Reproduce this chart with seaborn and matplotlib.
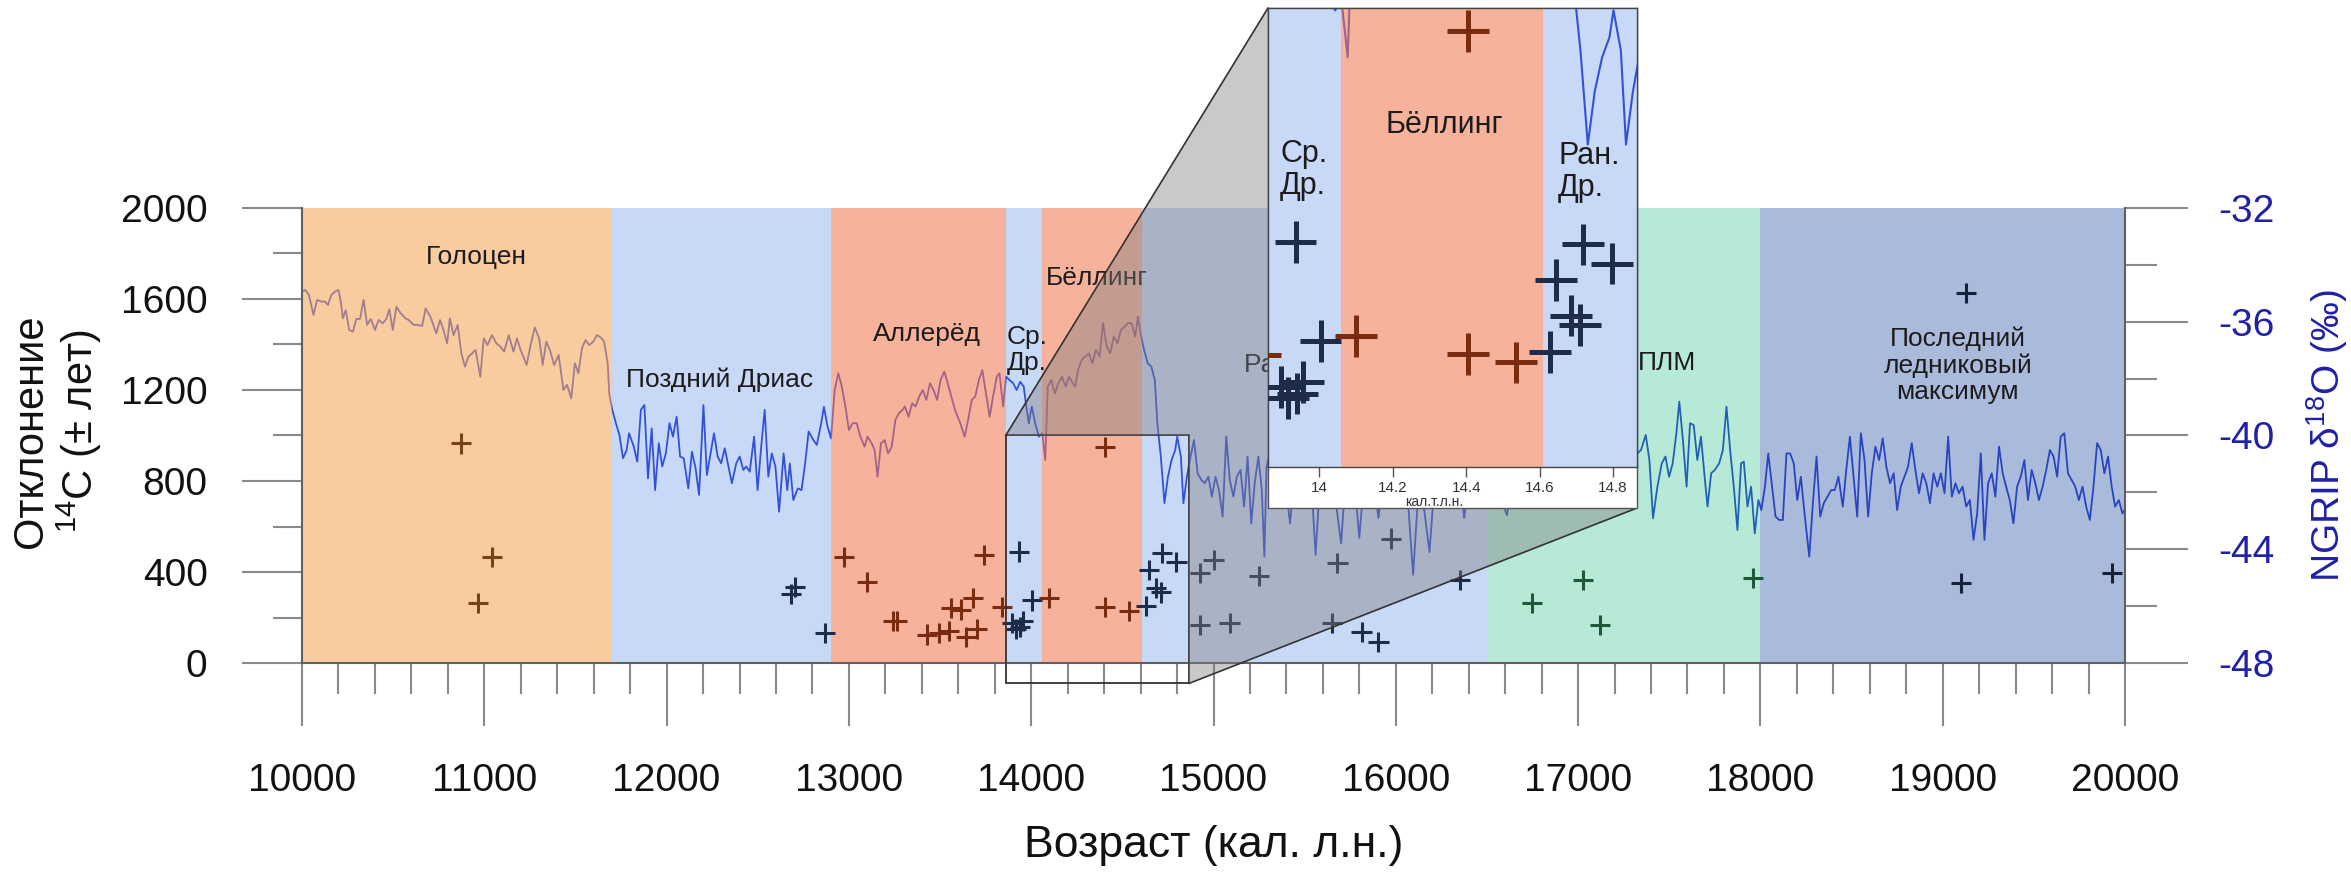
import matplotlib
matplotlib.use("Agg")
import numpy as np
import pandas as pd
import matplotlib.pyplot as plt
import seaborn as sns
from matplotlib.patches import Rectangle, Polygon
from matplotlib.lines import Line2D
from matplotlib.ticker import MultipleLocator, FuncFormatter

sns.set_style("ticks")
plt.rcParams['font.family'] = ['Liberation Sans', 'DejaVu Sans']
plt.rcParams['mathtext.fontset'] = 'custom'
plt.rcParams['mathtext.rm'] = 'Liberation Sans'
plt.rcParams['mathtext.it'] = 'Liberation Sans:italic'
plt.rcParams['mathtext.bf'] = 'Liberation Sans:bold'
plt.rcParams['axes.unicode_minus'] = False

# ---------------- climate periods (cal. yr BP) ----------------
period_names = ["Голоцен", "Поздний Дриас", "Аллерёд", "Ср.\nДр.", "Бёллинг",
                "Ран. Др.", "ПЛМ", "Последний\nледниковый\nмаксимум"]
period_start = [10000, 11700, 12900, 13860, 14060, 14610, 16500, 18000]
period_end = [11700, 12900, 13860, 14060, 14610, 16500, 18000, 20000]

# ---------------- NGRIP d18O record ----------------
ngrip_age = [
    10000, 10018, 10038, 10063, 10083, 10106, 10126, 10142, 10161, 10181, 10200, 10214, 10224, 10240,
    10259, 10279, 10298, 10318, 10338, 10357, 10377, 10400, 10420, 10443, 10463, 10479, 10498, 10518,
    10541, 10567, 10586, 10612, 10635, 10659, 10678, 10704, 10737, 10757, 10776, 10796, 10811, 10831,
    10854, 10874, 10894, 10913, 10933, 10952, 10978, 10997, 11017, 11042, 11066, 11089, 11109, 11134,
    11160, 11179, 11199, 11232, 11252, 11277, 11301, 11320, 11340, 11360, 11383, 11408, 11434, 11454,
    11477, 11497, 11516, 11536, 11555, 11575, 11598, 11618, 11638, 11657, 11677, 11685, 11702, 11722,
    11741, 11761, 11781, 11794, 11820, 11839, 11859, 11878, 11898, 11918, 11937, 11957, 11976, 11996,
    12016, 12035, 12055, 12074, 12094, 12119, 12139, 12159, 12178, 12202, 12221, 12241, 12260, 12280,
    12299, 12319, 12339, 12358, 12382, 12401, 12421, 12437, 12456, 12480, 12499, 12519, 12538, 12558,
    12577, 12597, 12617, 12642, 12662, 12676, 12695, 12720, 12740, 12760, 12779, 12805, 12824, 12848,
    12863, 12883, 12902, 12922, 12942, 12961, 12981, 13000, 13020,
    13043, 13063, 13086, 13102, 13125, 13141, 13157, 13176, 13196, 13215, 13235, 13255, 13274, 13294,
    13307, 13327, 13347, 13366, 13386, 13405, 13425, 13445, 13464, 13484, 13503, 13523, 13542, 13562,
    13582, 13611, 13635, 13654, 13674, 13693, 13713, 13732, 13752, 13772, 13791, 13811, 13826, 13846,
    13862, 13881, 13901, 13920, 13940, 13959, 13973, 13987, 14003, 14022, 14042, 14061, 14077, 14091,
    14110, 14130, 14149, 14169, 14189, 14208, 14228, 14241, 14257, 14277, 14296, 14316, 14335, 14355,
    14375, 14394, 14414, 14433, 14453, 14473, 14492, 14512, 14531, 14551, 14570, 14586, 14600, 14619,
    14639, 14659, 14678, 14692, 14711, 14731, 14750, 14770, 14790, 14801, 14821, 14835, 14854, 14874,
    14893, 14913, 14933, 14952, 14972, 14991, 15011, 15030, 15050, 15070, 15089, 15109, 15128, 15148,
    15168, 15187, 15207, 15226, 15246, 15265, 15279, 15291,
    15310, 15340, 15370, 15400, 15420, 15445, 15470, 15500, 15530, 15560, 15590, 15620, 15650, 15700,
    15730, 15760, 15800, 15830, 15860, 15905, 15940, 15975, 16010, 16050, 16095, 16130, 16185, 16220,
    16260, 16300, 16340, 16375, 16410, 16450, 16490, 16530, 16560, 16610, 16650, 16690, 16730, 16770,
    16810, 16850, 16890, 16930, 16970, 17010, 17050, 17090, 17130, 17170, 17210, 17250, 17290,
    17325, 17345, 17371, 17391, 17411, 17435, 17459, 17479, 17499, 17519, 17539, 17555, 17575, 17595,
    17614, 17634, 17654, 17674, 17694, 17710, 17730, 17750, 17774, 17794, 17814, 17834, 17854, 17874,
    17894, 17909, 17929, 17949, 17969, 17989, 18005, 18025, 18043, 18063, 18083, 18103, 18123, 18143,
    18163, 18183, 18202, 18222, 18242, 18268, 18288, 18308, 18328, 18348, 18368, 18388, 18408, 18428,
    18452, 18471, 18491, 18511, 18531, 18551, 18571, 18591, 18611, 18631, 18651, 18671, 18691, 18711,
    18731, 18750, 18770, 18790, 18810, 18830, 18850, 18870, 18890, 18910, 18930, 18950, 18970, 18990,
    19010, 19030, 19050, 19070, 19089, 19109, 19129, 19149, 19169, 19189, 19209, 19229, 19249, 19269,
    19289, 19309, 19329, 19348, 19368, 19388, 19408, 19428, 19448, 19468, 19488, 19508, 19528, 19548,
    19568, 19588, 19608, 19628, 19647, 19667, 19687, 19707, 19727, 19747, 19767, 19787, 19807, 19827,
    19847, 19867, 19887, 19907, 19927, 19946, 19966, 19986, 20000,
]
ngrip_d18o = [
    -34.94, -34.88, -35.06, -35.76, -35.23, -35.29, -35.29, -35.41, -35.06, -34.94, -34.88, -35.35, -35.88, -35.59,
    -36.29, -36.35, -35.90, -35.90, -35.23, -36.11, -35.90, -36.29, -35.94, -36.06, -35.90, -35.56, -36.29, -35.47,
    -35.70, -35.88, -35.94, -36.11, -36.11, -36.15, -35.53, -35.82, -36.41, -35.94, -36.29, -36.76, -35.88, -36.47,
    -36.11, -37.11, -37.58, -37.23, -37.11, -36.99, -37.93, -36.58, -36.82, -36.47, -36.76, -36.88, -37.05, -36.47,
    -37.05, -36.58, -36.99, -37.52, -36.88, -36.20, -36.58, -37.52, -36.70, -36.99, -37.52, -37.17, -38.40, -38.22,
    -38.69, -37.46, -37.81, -36.93, -36.64, -36.82, -36.70, -36.47, -36.55, -36.70, -37.46, -38.52, -39.10, -39.57,
    -39.98, -40.80, -40.51, -39.92, -40.39, -40.92, -39.10, -38.93, -41.51, -39.75, -41.92, -40.27, -41.09, -40.63,
    -39.57, -40.04, -39.34, -40.74, -40.80, -41.86, -40.57, -41.15, -42.09, -38.93, -41.39, -40.63, -39.92, -40.74,
    -40.98, -40.45, -41.09, -41.68, -40.98, -40.74, -41.21, -41.09, -41.27, -40.04, -41.92, -40.39, -39.10, -41.45,
    -40.63, -41.09, -42.68, -40.63, -41.92, -40.98, -42.27, -41.86, -41.92, -40.98, -39.86, -40.16, -40.33, -39.57,
    -38.99, -39.69, -40.10, -38.40, -37.81, -38.28, -38.99, -39.81, -39.57,
    -39.57, -40.04, -40.39, -40.04, -40.27, -40.51, -41.45, -40.27, -40.16, -40.63, -40.39, -39.45, -39.22, -39.10,
    -38.98, -39.34, -38.87, -38.98, -38.63, -38.40, -38.75, -38.16, -38.40, -38.75, -38.05, -37.75, -38.16, -38.63,
    -39.10, -39.57, -40.04, -39.45, -38.75, -38.63, -38.05, -37.70, -38.52, -39.34, -38.63, -37.93, -37.81, -38.98,
    -37.93, -38.05, -38.16, -38.40, -38.11, -38.28, -38.98, -39.57, -38.98, -39.57, -40.04, -39.92, -40.86, -38.28,
    -38.05, -38.52, -38.16, -37.93, -38.28, -37.93, -38.16, -38.28, -37.70, -37.34, -37.23, -37.11, -37.46, -36.99,
    -37.23, -36.05, -36.87, -37.11, -36.52, -36.76, -36.29, -36.17, -36.05, -36.05, -36.52, -35.82, -36.41, -36.99,
    -37.46, -37.58, -38.05, -39.57, -40.74, -42.38, -41.45, -40.86, -40.51, -40.04, -40.74, -42.38, -41.45, -40.74,
    -40.16, -41.33, -41.56, -41.68, -41.45, -42.15, -41.45, -41.92, -42.85, -40.04, -41.56, -42.15, -41.45, -41.21,
    -42.50, -40.74, -43.09, -41.68, -40.74, -41.92, -44.26, -41.09,
    -40.60, -41.50, -40.80, -42.00, -43.10, -41.20, -40.50, -41.60, -40.90, -44.20, -41.00, -40.40, -41.30, -43.80,
    -41.00, -40.60, -43.60, -41.20, -40.70, -42.90, -41.00, -40.50, -41.40, -40.80, -44.90, -41.30, -44.10, -41.00,
    -40.60, -41.50, -40.90, -42.90, -41.20, -40.40, -41.60, -40.70, -41.90, -42.80, -41.00, -40.30, -41.40, -40.60,
    -41.80, -40.90, -41.50, -40.40, -41.20, -40.70, -42.00, -40.90, -41.30, -40.50, -41.60, -40.80, -41.00,
    -40.63, -40.51, -39.98, -40.86, -42.91, -41.80, -40.98, -40.74, -41.45, -40.98, -39.92, -38.81, -40.16, -41.80,
    -39.57, -39.63, -40.86, -40.04, -41.45, -42.50, -41.33, -41.21, -40.98, -40.51, -38.99, -40.51, -41.80, -43.32,
    -40.98, -40.92, -42.50, -41.80, -43.44, -42.27, -42.62, -41.80, -40.63, -41.74, -42.85, -42.97, -42.97, -40.63,
    -40.63, -40.98, -42.27, -41.45, -42.74, -44.26, -42.38, -40.74, -42.85, -42.38, -42.15, -41.92, -41.92, -41.45,
    -42.50, -41.21, -40.04, -41.45, -42.85, -39.92, -40.86, -42.85, -41.33, -40.39, -40.86, -40.10, -41.10, -41.68,
    -41.33, -42.62, -41.80, -41.45, -41.10, -40.27, -41.21, -42.03, -41.33, -41.68, -42.38, -41.33, -41.80, -41.33,
    -42.03, -40.04, -42.15, -41.68, -42.03, -41.80, -42.50, -42.27, -43.67, -42.74, -40.63, -43.67, -41.68, -41.33,
    -42.15, -40.39, -41.33, -41.80, -42.27, -43.09, -41.80, -41.45, -40.86, -42.27, -41.21, -41.68, -42.27, -41.80,
    -41.21, -40.51, -40.74, -41.45, -40.04, -39.92, -41.33, -41.56, -41.80, -42.27, -41.80, -42.50, -42.97, -41.80,
    -40.27, -40.51, -41.33, -40.74, -41.80, -42.50, -42.27, -42.74, -42.60,
]

# ---------------- 14C age offsets of dated samples ----------------
holocene_age = [10870, 10965, 11040]
holocene_off = [965, 265, 465]
late_dryas_age = [12680, 12705, 12870]
late_dryas_off = [305, 335, 130]
allerod_age = [12975, 13100, 13240, 13265, 13430, 13495, 13550, 13560, 13615, 13640, 13680, 13705, 13740, 13840]
allerod_off = [465, 355, 185, 185, 125, 130, 140, 240, 235, 115, 285, 150, 475, 245]
older_dryas_age = [13895, 13915, 13935, 13940, 13955, 14003]
older_dryas_off = [175, 150, 490, 160, 185, 275]
bolling_age = [14100, 14405, 14405, 14535]
bolling_off = [285, 950, 246, 228]
oldest_dryas_age = [14628, 14645, 14685, 14710, 14718, 14797, 14925, 14925, 15000, 15088, 15250,
                    15652, 15680, 15812, 15905, 15973, 16354]
oldest_dryas_off = [250, 408, 330, 310, 485, 443, 395, 167, 453, 176, 383,
                    176, 440, 137, 92, 547, 364]
post_lgm_age = [16745, 17025, 17120, 17960]
post_lgm_off = [263, 365, 167, 374]
lgm_age = [19100, 19130, 19930]
lgm_off = [352, 1628, 396]

samples = pd.concat([
    pd.DataFrame({"age": holocene_age, "offset": holocene_off, "group": "holocene"}),
    pd.DataFrame({"age": late_dryas_age, "offset": late_dryas_off, "group": "cold"}),
    pd.DataFrame({"age": allerod_age, "offset": allerod_off, "group": "warm"}),
    pd.DataFrame({"age": older_dryas_age, "offset": older_dryas_off, "group": "cold"}),
    pd.DataFrame({"age": bolling_age, "offset": bolling_off, "group": "warm"}),
    pd.DataFrame({"age": oldest_dryas_age, "offset": oldest_dryas_off, "group": "cold"}),
    pd.DataFrame({"age": post_lgm_age, "offset": post_lgm_off, "group": "post_lgm"}),
    pd.DataFrame({"age": lgm_age, "offset": lgm_off, "group": "lgm"}),
], ignore_index=True)

marker_palette = {"holocene": "#744418", "warm": "#7A2C10", "cold": "#1E2B4A",
                  "post_lgm": "#1F5A38", "lgm": "#17213A"}

# band fills are laid translucently over the isotope curve
band_color = ['#F5AA61', '#4B84E8', '#F37F58', '#4B84E8', '#F37F58', '#4B84E8', '#0FB97A', '#2A53A3']
band_alpha = [0.6, 0.3, 0.6, 0.3, 0.6, 0.3, 0.3, 0.4]
line_color = '#283CD2'
ink = '#1c1c1c'
blue_ink = '#2020A8'
tick_grey = '#8a8a8a'

# ---------------- figure layout (pixel frame 2351 x 873) ----------------
W, H = 2351, 873
fig = plt.figure(figsize=(W / 100, H / 100), dpi=100)
fig.patch.set_facecolor('white')


def fxp(px):
    return px / W


def fyp(py):
    return 1 - py / H


ax_d = fig.add_axes([fxp(302), fyp(663), (2125 - 302) / W, (663 - 208) / H])
ax_c = ax_d.twinx()
ax_d.set_zorder(1)
ax_c.set_zorder(2)
ax_c.patch.set_visible(False)

# isotope curve with period bands over it
sns.lineplot(x=ngrip_age, y=ngrip_d18o, ax=ax_d, color=line_color, linewidth=1.3,
             estimator=None, sort=False, zorder=1)
for s, e, c, a in zip(period_start, period_end, band_color, band_alpha):
    ax_d.axvspan(s, e, color=c, alpha=a, lw=0, zorder=2)

ax_d.set_xlim(10000, 20000)
ax_d.set_ylim(-48, -32)
ax_c.set_ylim(0, 2000)

# samples
sns.scatterplot(data=samples, x="age", y="offset", hue="group", palette=marker_palette,
                marker='+', s=210, linewidth=2.2, legend=False, ax=ax_c, zorder=4)

# axes, ticks
ax_d.xaxis.set_major_locator(MultipleLocator(1000))
ax_d.xaxis.set_minor_locator(MultipleLocator(200))
ax_d.tick_params(axis='x', which='major', bottom=True, length=45, width=1.5, color=tick_grey,
                 pad=27, labelsize=28, labelcolor='#111111')
ax_d.tick_params(axis='x', which='minor', bottom=True, length=22, width=1.5, color=tick_grey)

ax_d.yaxis.tick_right()
ax_d.yaxis.set_label_position('right')
ax_d.yaxis.set_major_locator(MultipleLocator(4))
ax_d.yaxis.set_minor_locator(MultipleLocator(2))
ax_d.tick_params(axis='y', which='major', right=True, left=False, length=45, width=1.5,
                 color=tick_grey, pad=22, labelsize=28, labelcolor=blue_ink)
ax_d.tick_params(axis='y', which='minor', right=True, left=False, length=23, width=1.5, color=tick_grey)

ax_c.yaxis.tick_left()
ax_c.yaxis.set_label_position('left')
ax_c.yaxis.set_major_locator(MultipleLocator(400))
ax_c.yaxis.set_minor_locator(MultipleLocator(200))
ax_c.tick_params(axis='y', which='major', left=True, right=False, length=43, width=1.5,
                 color=tick_grey, pad=25, labelsize=28, labelcolor='#111111')
ax_c.tick_params(axis='y', which='minor', left=True, right=False, length=21, width=1.5, color=tick_grey)

for ax in (ax_d, ax_c):
    ax.spines['top'].set_visible(False)
ax_d.spines['left'].set_visible(False)
ax_c.spines['right'].set_visible(False)
ax_c.spines['bottom'].set_visible(False)
for sp in (ax_d.spines['bottom'], ax_d.spines['right'], ax_c.spines['left']):
    sp.set_color('#606060')
    sp.set_linewidth(1.5)

ax_d.set_xlabel("Возраст (кал. л.н.)", fontsize=32, color='#111111')
ax_d.xaxis.label.set_va('center')
ax_d.xaxis.set_label_coords(0.5, -0.40)

ax_c.set_ylabel("Отклонение\n$^{14}$C (± лет)", fontsize=30, color='#111111', linespacing=1.1)
ax_c.yaxis.label.set_va('center')
ax_c.yaxis.label.set_ha('center')
ax_c.yaxis.set_label_coords(-0.134, 0.51)

ax_d.set_ylabel("NGRIP δ$^{18}$O (‰)", fontsize=28, color=blue_ink)
ax_d.yaxis.label.set_va('center')
ax_d.yaxis.label.set_ha('center')
ax_d.yaxis.set_label_coords(1.111, 0.5)

# period names
main_labels = [
    ("Голоцен", 10954, 1785, 'center'),
    ("Поздний Дриас", 12292, 1244, 'center'),
    ("Аллерёд", 13426, 1445, 'center'),
    ("Ср.\nДр.", 13865, 1376, 'left'),
    ("Бёллинг", 14079, 1692, 'left'),
    ("Ран. Др.", 15170, 1310, 'left'),
    ("ПЛМ", 17330, 1319, 'left'),
    ("Последний\nледниковый\nмаксимум", 19083, 1310, 'center'),
]
for txt, x, y, ha in main_labels:
    ax_c.text(x, y, txt, fontsize=19, color=ink, ha=ha, va='center',
              multialignment=ha, linespacing=1.12, zorder=5)

# zoom window on the main axes
zoom_lo, zoom_hi = 13860, 14865
ax_c.add_patch(Rectangle((zoom_lo, -90), zoom_hi - zoom_lo, 1090, fill=False,
                         ec='#333333', lw=1.3, clip_on=False, zorder=6))

# ---------------- inset ----------------
ins_left, ins_right, ins_top, ins_bottom, ins_panel_bottom = 1268, 1637, 8, 467, 508
ins_d = fig.add_axes([fxp(ins_left), fyp(ins_bottom), (ins_right - ins_left) / W,
                      (ins_bottom - ins_top) / H])
ins_d.set_zorder(5)
ins_c = ins_d.twinx()
ins_c.set_zorder(6)
ins_c.patch.set_visible(False)

sns.lineplot(x=ngrip_age, y=ngrip_d18o, ax=ins_d, color=line_color, linewidth=1.5,
             estimator=None, sort=False, zorder=1)
for s, e, c, a in zip(period_start, period_end, band_color, band_alpha):
    ins_d.axvspan(s, e, color=c, alpha=a, lw=0, zorder=2)
ins_d.set_xlim(zoom_lo, zoom_hi)
ins_d.set_ylim(-48, -40)
ins_c.set_ylim(0, 1000)

sns.scatterplot(data=samples, x="age", y="offset", hue="group", palette=marker_palette,
                marker='+', s=900, linewidth=3.6, legend=False, ax=ins_c, zorder=4)
ins_c.set_xlim(zoom_lo, zoom_hi)

ins_d.xaxis.set_major_locator(MultipleLocator(200))
ins_d.xaxis.set_major_formatter(FuncFormatter(lambda v, p: f"{v / 1000:g}"))
ins_d.tick_params(axis='x', which='both', bottom=True, length=7, width=1, color='#555555',
                  labelsize=11, pad=3, labelcolor='#333333')
for a in (ins_d, ins_c):
    a.tick_params(axis='y', which='both', left=False, right=False, labelleft=False, labelright=False)
    a.set_ylabel("")
ins_c.set_xlabel("")
ins_d.set_xlabel("кал.т.л.н.", fontsize=10, color='#333333')
ins_d.xaxis.label.set_va('center')
ins_d.xaxis.set_label_coords(0.45, -0.076)
for sp in ins_d.spines.values():
    sp.set_color('#444444')
    sp.set_linewidth(1)
for sp in ins_c.spines.values():
    sp.set_visible(False)

inset_labels = [
    ("Ср.\nДр.", 13893, 647, 'left'),
    ("Бёллинг", 14340, 745, 'center'),
    ("Ран.\nДр.", 14650, 643, 'left'),
]
for txt, x, y, ha in inset_labels:
    ins_c.text(x, y, txt, fontsize=22, color=ink, ha=ha, va='center', linespacing=1.1, zorder=5)

# white panel holding the inset and its axis
fig.add_artist(Rectangle((fxp(ins_left), fyp(ins_panel_bottom)), (ins_right - ins_left) / W,
                         (ins_panel_bottom - ins_top) / H, transform=fig.transFigure,
                         fc='white', ec='#555555', lw=1, zorder=4))

# connector from the zoom window to the inset
to_fig = fig.transFigure.inverted()
rTL, rTR, rBR = to_fig.transform(ax_c.transData.transform(
    [(zoom_lo, 1000), (zoom_hi, 1000), (zoom_hi, -90)]))
iTL = (fxp(ins_left), fyp(ins_top))
iTR = (fxp(ins_right), fyp(ins_top))
pBR = (fxp(ins_right), fyp(ins_panel_bottom))
fig.add_artist(Polygon([rTL, iTL, iTR, pBR, rBR, rTR], closed=True, transform=fig.transFigure,
                       fc='#7f7f7f', alpha=0.42, ec='none', zorder=3))
fig.add_artist(Line2D([rTL[0], iTL[0]], [rTL[1], iTL[1]], transform=fig.transFigure,
                      color='#333333', lw=1.2, zorder=3.5))
fig.add_artist(Line2D([pBR[0], rBR[0]], [pBR[1], rBR[1]], transform=fig.transFigure,
                      color='#333333', lw=1.2, zorder=3.5))

fig.savefig("out.png", dpi=100)
